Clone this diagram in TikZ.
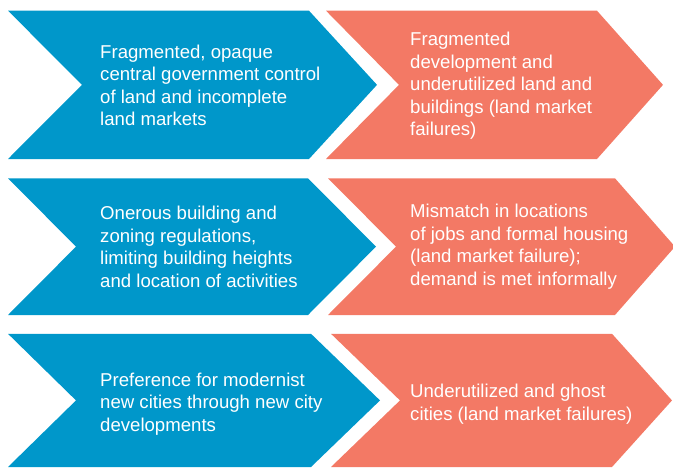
\documentclass[tikz,border=0pt]{standalone}
\usepackage{fontspec}
\setmainfont{Liberation Sans}
\definecolor{causeblue}{RGB}{0,151,202}
\definecolor{effectsalmon}{RGB}{243,121,101}
\begin{document}
\begin{tikzpicture}[x=1pt,y=-1pt,
  chevtext/.style={anchor=west, align=left, text=white, inner sep=0pt,
    font=\fontsize{18.6}{22.5}\selectfont}]
\useasboundingbox (0,0) rectangle (673,467);
\clip (0,0) rectangle (673,467);
% \chev{colour}{top}{bottom}{left}{notch}{shoulder}{tip}
\newcommand\chev[7]{%
  \fill[#1] (#4,#2) -- (#6,#2) -- (#7,{(#2+#3)/2}) -- (#6,#3) -- (#4,#3)
    -- (#5,{(#2+#3)/2}) -- cycle;}

% row 1
\chev{causeblue}{10.7}{159}{8}{82}{309}{377}
\chev{effectsalmon}{10.7}{159}{326}{399}{597}{663}
\node[chevtext] (c1) at (100,85.5) {Fragmented, opaque\\central government control\\of land and incomplete\\land markets};
\node[chevtext] (e1) at (410,86) {Fragmented\\development and\\underutilized land and\\buildings (land market\\failures)};

% row 2
\chev{causeblue}{178.3}{315}{8}{76}{308}{376}
\chev{effectsalmon}{178.3}{315}{328}{396}{615}{675}
\node[chevtext] (c2) at (100,246.6) {Onerous building and\\zoning regulations,\\limiting building heights\\and location of activities};
\node[chevtext] (e2) at (410,246.6) {Mismatch in locations\\of jobs and formal housing\\(land market failure);\\demand is met informally};

% row 3
\chev{causeblue}{333.8}{467}{8}{76}{311}{380}
\chev{effectsalmon}{333.8}{467}{331}{400}{612}{672}
\node[chevtext] (c3) at (100,404) {Preference for modernist\\new cities through new city\\developments};
\node[chevtext] (e3) at (410,404) {Underutilized and ghost\\cities (land market failures)};
\end{tikzpicture}
\end{document}
